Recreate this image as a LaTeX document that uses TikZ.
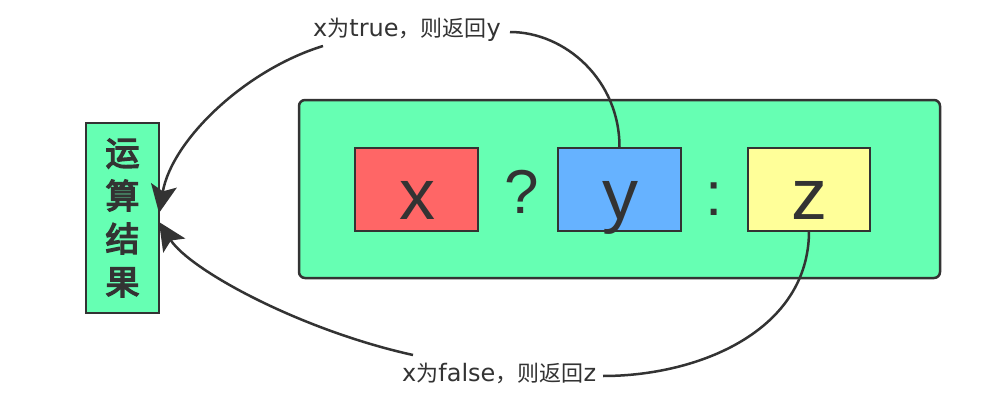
\documentclass[tikz,border=0pt]{standalone}
\usepackage{fontspec}
\setmainfont{Liberation Sans}
\newfontfamily\cjkf{Noto Sans CJK SC}
\newfontfamily\cjkbf[FakeBold=4]{Noto Sans CJK SC}
\newfontfamily\latf{DejaVu Sans}
\usetikzlibrary{arrows.meta}
\definecolor{gbg}{HTML}{66FFB3}
\definecolor{rx}{HTML}{FF6666}
\definecolor{by}{HTML}{66B2FF}
\definecolor{yz}{HTML}{FFFF99}
\definecolor{ink}{HTML}{333333}
\newcommand{\lt}{\latf\fontsize{24}{26}\selectfont}
\newcommand{\ct}{\cjkf\fontsize{22}{26}\selectfont}
\begin{document}
\begin{tikzpicture}[x=1pt,y=-1pt,
  box/.style={draw=ink, line width=2.5pt, minimum width=123pt, minimum height=83pt, inner sep=0pt, outer sep=0pt},
  conn/.style={draw=ink, line width=2.5pt},
  lbl/.style={text=ink, inner sep=0pt},
  bigl/.style={font=\fontsize{72}{72}\selectfont, text=ink, inner sep=0pt},
  opl/.style={font=\fontsize{62}{62}\selectfont, text=ink, inner sep=0pt},
  tipa/.style={-{Stealth[length=28pt, width=26pt, inset=6pt]}}
]
\fill[white] (0,0) rectangle (1002,415);
\useasboundingbox (0,0) rectangle (1002,415);

\node[draw=ink, line width=2.5pt, fill=gbg, rounded corners=6pt, minimum width=641pt, minimum height=178pt, inner sep=0pt, outer sep=0pt] (frame) at (619.5,189) {};
\node[box, fill=rx] (xb) at (416.5,189.5) {};
\node[box, fill=by] (yb) at (619.5,189.5) {};
\node[box, fill=yz, minimum width=122pt] (zb) at (809,189.5) {};

\node[bigl, anchor=base] (xt) at (417,219) {x};
\node[bigl, anchor=base] (yt) at (620,219) {y};
\node[bigl, anchor=base] (zt) at (809,219) {z};
\node[opl, anchor=base] (q) at (522,213) {?};
\node[opl, anchor=base] (c) at (714,215) {:};

\node[draw=ink, line width=2.5pt, fill=gbg, minimum width=73pt, minimum height=190pt, inner sep=0pt, outer sep=0pt, align=center, text=ink, font=\cjkbf\fontsize{34}{43}\selectfont] (res) at (122.5,218) {运\\算\\结\\果};

\node[lbl, anchor=base west] (ltl) at (313,36) {\lt x\ct 为\lt true\ct ，则返回\lt y};
\node[lbl, anchor=base west] (lfl) at (402,381) {\lt x\ct 为\lt false\ct ，则返回\lt z};

\coordinate (lte) at (510,32);
\coordinate (ltw) at (323,46);
\coordinate (lfe) at (603,376);
\coordinate (lfw) at (413,355);

\draw[conn] (yb.north) .. controls (620,80) and (565,32) .. (lte);
\draw[conn, tipa] (ltw) .. controls (245,70) and (172,140) .. ([yshift=5pt]res.east);
\draw[conn] (zb.south) .. controls (809,330) and (700,376) .. (lfe);
\draw[conn, tipa] (lfw) .. controls (300,330) and (190,270) .. ([yshift=-4pt]res.east);
\end{tikzpicture}
\end{document}
